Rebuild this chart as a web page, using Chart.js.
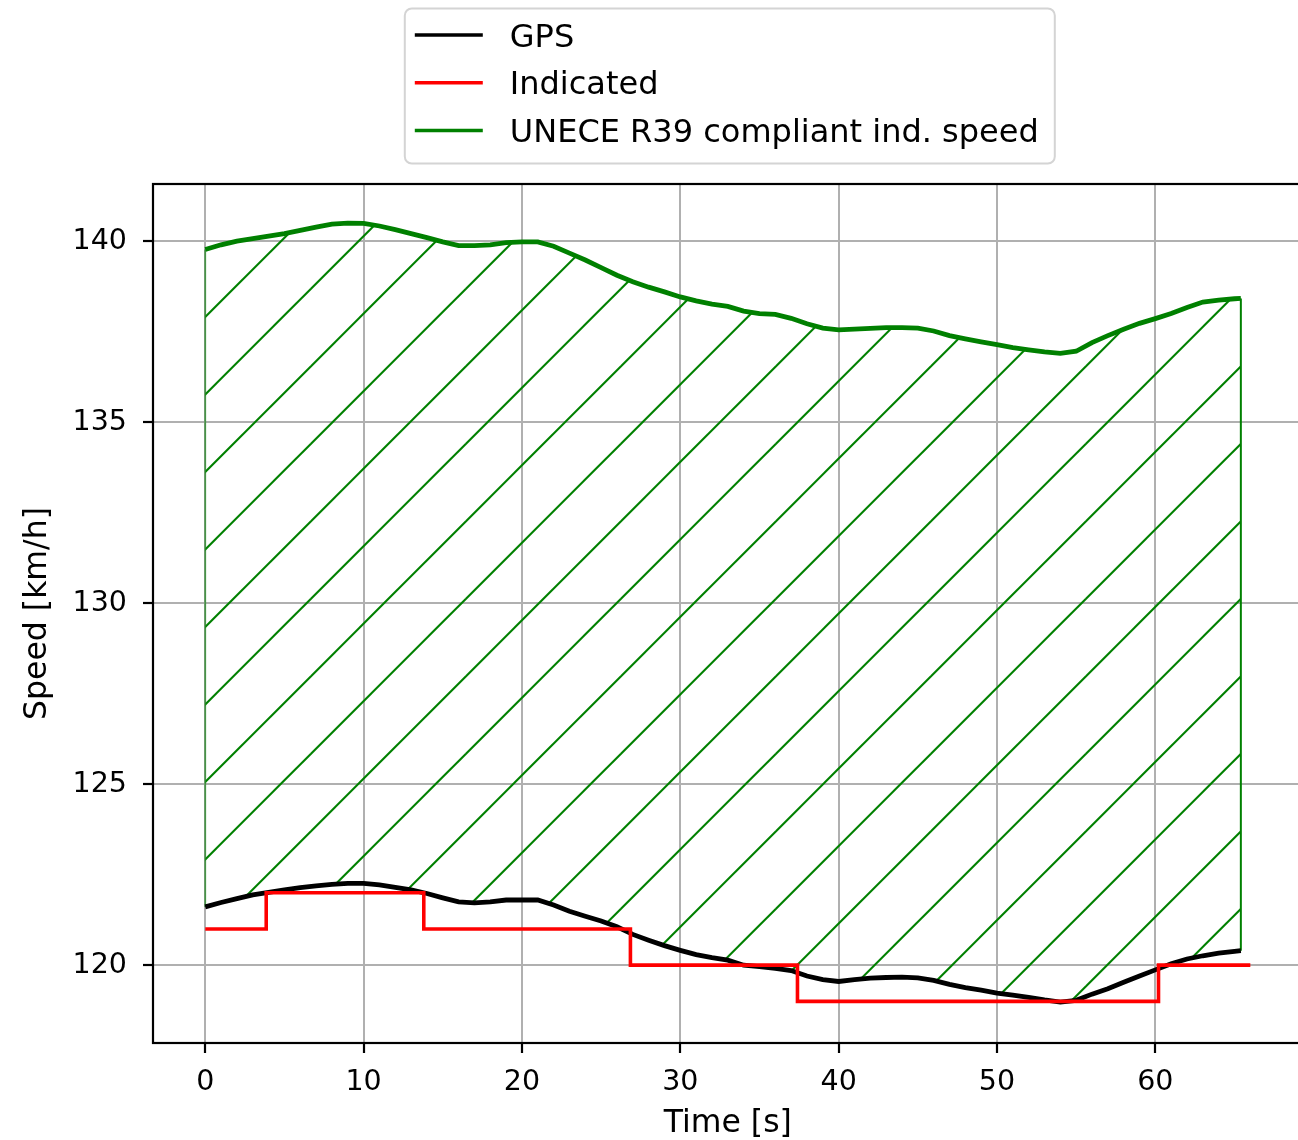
<!DOCTYPE html>
<html>
<head>
<meta charset="utf-8">
<script src="https://cdn.jsdelivr.net/npm/chart.js@4/dist/chart.umd.min.js"></script>
<style>
  html, body { margin: 0; padding: 0; background: #fff; overflow: hidden; }
  #speedChart { display: block; }
</style>
</head>
<body>
<canvas id="speedChart" width="1305" height="1143"></canvas>
<script>
// time axis [s] for the GPS trace and the R39 limit
const timeS = [0, 1, 2, 3, 4, 5, 6, 7, 8, 9, 10, 11, 12, 13, 14, 15, 16, 17, 18, 19,
  20, 21, 22, 23, 24, 25, 26, 27, 28, 29, 30, 31, 32, 33, 34, 35, 36, 37, 38, 39,
  40, 41, 42, 43, 44, 45, 46, 47, 48, 49, 50, 51, 52, 53, 54, 55, 56, 57, 58, 59,
  60, 61, 62, 63, 64, 65, 65.4];

// GPS speed [km/h]
const gpsSpeed = [121.61, 121.73, 121.84, 121.94, 122.01, 122.08, 122.14, 122.19, 122.23, 122.26,
  122.26, 122.22, 122.15, 122.08, 121.98, 121.86, 121.75, 121.72, 121.75, 121.80,
  121.80, 121.80, 121.66, 121.49, 121.35, 121.22, 121.06, 120.85, 120.69, 120.54,
  120.41, 120.29, 120.21, 120.14, 120.00, 119.96, 119.91, 119.85, 119.70, 119.60,
  119.55, 119.60, 119.64, 119.66, 119.67, 119.65, 119.58, 119.47, 119.38, 119.31,
  119.23, 119.17, 119.11, 119.04, 118.98, 119.03, 119.20, 119.35, 119.53, 119.70,
  119.87, 120.04, 120.17, 120.26, 120.33, 120.38, 120.40];

// upper limit for a compliant indicated speed [km/h]
const r39Limit = [139.77, 139.90, 140.00, 140.07, 140.14, 140.21, 140.30, 140.39, 140.47, 140.50,
  140.49, 140.42, 140.32, 140.21, 140.10, 139.98, 139.88, 139.88, 139.90, 139.96,
  139.98, 139.98, 139.86, 139.67, 139.48, 139.27, 139.06, 138.88, 138.73, 138.60,
  138.46, 138.35, 138.26, 138.20, 138.07, 138.00, 137.98, 137.87, 137.72, 137.60,
  137.55, 137.57, 137.59, 137.61, 137.61, 137.60, 137.52, 137.39, 137.30, 137.22,
  137.14, 137.06, 137.00, 136.94, 136.90, 136.96, 137.20, 137.39, 137.57, 137.73,
  137.86, 138.00, 138.17, 138.32, 138.37, 138.41, 138.42];

// indicated speed (speedometer), changes at these times
const indTime = [0, 3.85, 13.8, 26.85, 37.4, 60.2, 66];
const indSpeed = [121, 122, 121, 120, 119, 120, 120];

const xTicks = [0, 10, 20, 30, 40, 50, 60];
const yTicks = [120, 125, 130, 135, 140];
const seriesNames = ['GPS', 'Indicated', 'UNECE R39 compliant ind. speed'];
const seriesColors = ['#000000', '#ff0000', '#008000'];

const FONT = 'DejaVu Sans';
Chart.defaults.font.family = FONT;
Chart.defaults.color = '#000';

// hatch pattern "/" like matplotlib
function makeHatch() {
  const size = 155;
  const step = size / 2;
  const phase = 57.2;
  const c = document.createElement('canvas');
  c.width = size;
  c.height = size;
  const g = c.getContext('2d');
  g.strokeStyle = '#008000';
  g.lineWidth = 2.1;
  for (let k = -3; k <= 6; k++) {
    const s = phase + k * step;
    g.beginPath();
    g.moveTo(s + 30, -30);
    g.lineTo(-30, s + 30);
    g.stroke();
  }
  return g.createPattern(c, 'repeat');
}

const toPoints = (xs, ys) => xs.map((x, i) => ({ x: x, y: ys[i] }));
const last = timeS.length - 1;

// box around the plot area
const frame = {
  id: 'frame',
  afterDraw(chart) {
    const { ctx, chartArea: a } = chart;
    ctx.save();
    ctx.strokeStyle = '#000';
    ctx.lineWidth = 2.2;
    ctx.strokeRect(a.left, a.top, a.right - a.left, a.bottom - a.top);
    ctx.restore();
  }
};

// legend in a rounded box above the plot, one entry per row
const boxLegend = {
  id: 'boxLegend',
  afterDraw(chart) {
    const { ctx, chartArea: a } = chart;
    const cx = (a.left + a.right) / 2;
    const w = 650, h = 155;
    const bx = cx - w / 2 + 2, by = 8.5;
    ctx.save();
    ctx.beginPath();
    ctx.roundRect(bx, by, w, h, 7);
    ctx.fillStyle = 'rgba(255,255,255,0.9)';
    ctx.fill();
    ctx.strokeStyle = '#d4d4d4';
    ctx.lineWidth = 2;
    ctx.stroke();
    ctx.font = '32px "' + FONT + '"';
    ctx.textBaseline = 'alphabetic';
    ctx.textAlign = 'left';
    seriesNames.forEach((name, i) => {
      const y = by + 26.5 + i * 47.75;
      ctx.strokeStyle = seriesColors[i];
      ctx.lineWidth = 3.5;
      ctx.beginPath();
      ctx.moveTo(bx + 10, y);
      ctx.lineTo(bx + 78, y);
      ctx.stroke();
      ctx.fillStyle = '#000';
      ctx.fillText(name, bx + 105, y + 11.5);
    });
    ctx.restore();
  }
};

const ctx = document.getElementById('speedChart');

new Chart(ctx, {
  type: 'line',
  data: {
    datasets: [
      {
        label: seriesNames[0],
        data: toPoints(timeS, gpsSpeed),
        borderColor: seriesColors[0],
        borderWidth: 4.8,
        pointRadius: 0,
        fill: false,
        order: 1
      },
      {
        label: seriesNames[1],
        data: toPoints(indTime, indSpeed),
        borderColor: seriesColors[1],
        borderWidth: 3.6,
        pointRadius: 0,
        stepped: 'before',
        fill: false,
        order: 0
      },
      {
        label: seriesNames[2],
        data: toPoints(timeS, r39Limit),
        borderColor: seriesColors[2],
        backgroundColor: makeHatch(),
        borderWidth: 4.8,
        pointRadius: 0,
        fill: 0,
        order: 2
      },
      {
        // left and right edges of the hatched band
        label: 'edgeStart',
        data: [{ x: timeS[0], y: gpsSpeed[0] }, { x: timeS[0], y: r39Limit[0] }],
        borderColor: 'rgba(0,128,0,0.6)',
        borderWidth: 1.8,
        pointRadius: 0,
        fill: false,
        order: 3
      },
      {
        label: 'edgeEnd',
        data: [{ x: timeS[last], y: gpsSpeed[last] }, { x: timeS[last], y: r39Limit[last] }],
        borderColor: seriesColors[2],
        borderWidth: 2,
        pointRadius: 0,
        fill: false,
        order: 3
      }
    ]
  },
  options: {
    responsive: false,
    devicePixelRatio: 1,
    animation: false,
    layout: { padding: { top: 184, right: 2.4, left: 0, bottom: 0 } },
    plugins: {
      legend: { display: false },
      tooltip: { enabled: false }
    },
    scales: {
      x: {
        type: 'linear',
        min: -3.3,
        max: 69.3,
        afterBuildTicks: s => { s.ticks = xTicks.map(v => ({ value: v })); },
        afterFit: s => { s.height = 100; },
        ticks: { font: { size: 28.5 }, color: '#000', padding: 12, maxRotation: 0 },
        grid: { color: '#b0b0b0', lineWidth: 2, tickColor: '#000', tickWidth: 2.2, tickLength: 10 },
        border: { display: false },
        title: { display: true, text: 'Time [s]', font: { size: 31.5 }, color: '#000', padding: 0 }
      },
      y: {
        min: 117.85,
        max: 141.58,
        afterBuildTicks: s => { s.ticks = yTicks.map(v => ({ value: v })); },
        afterFit: s => { s.width = 153; },
        ticks: { font: { size: 28.5 }, color: '#000', padding: 16 },
        grid: { color: '#b0b0b0', lineWidth: 2, tickColor: '#000', tickWidth: 2.2, tickLength: 10 },
        border: { display: false },
        title: { display: true, text: 'Speed [km/h]', font: { size: 31.5 }, color: '#000', padding: { top: 19, bottom: 0 } }
      }
    }
  },
  plugins: [frame, boxLegend]
});
</script>
</body>
</html>
